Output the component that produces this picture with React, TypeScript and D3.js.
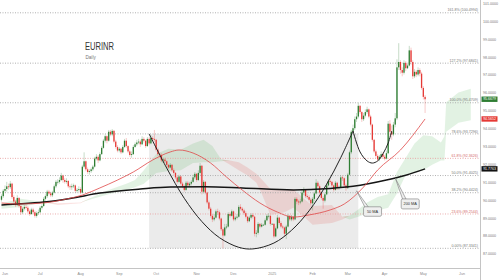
import React from "react";
import * as d3 from "d3";

// ---------- data ----------
const START = "2024-05-30";
const END = "2025-05-02";
const ORIGIN = "2024-06-03";

const opens = [
  90.05, 90.25,
  90.55, 90.65, 90.8, 90.75, 90.95,
  90.2, 89.95, 89.75, 90.15, 89.7,
  89.35, 89.55, 89.65, 89.6, 89.4,
  89.25, 89.5, 89.35, 89.15, 89.3,
  89.35, 89.6, 89.7, 90.1, 90.25,
  90.5, 90.4, 90.3, 90.45, 90.8,
  91.05, 91.05, 91.15, 91.4, 91.15,
  91.05, 91.1, 90.8, 90.75, 90.8,
  90.85, 90.55, 90.6, 90.65, 90.45,
  91.9, 92.2, 91.75, 91.6, 91.65,
  91.75, 91.9, 92.35, 92.45, 92.25,
  92.6, 92.95, 93.35, 93.6, 93.35,
  93.85, 93.7, 93.9, 93.3, 93.0,
  92.8, 92.9, 92.7, 93.0, 93.35,
  93.05, 92.75, 92.55, 92.6, 93.0,
  93.15, 93.25, 93.3, 93.15, 93.45,
  93.35, 93.05, 93.45, 93.2, 93.5,
  93.45, 93.4, 92.85, 92.6, 92.55,
  92.25, 92.3, 92.2, 92.0, 91.85,
  92.0, 91.7, 91.55, 91.3, 91.05,
  91.35, 90.95, 90.8, 90.6, 91.0,
  90.85, 90.95, 91.05, 91.3, 91.5,
  91.15, 91.55, 91.95, 90.5, 91.05,
  90.45, 89.9, 89.55, 89.15, 88.95,
  89.05, 89.4, 89.35, 89.0, 88.4,
  88.05, 88.5, 88.55, 89.25, 89.15,
  89.4, 88.95, 89.05, 89.1, 89.65,
  89.55, 89.45, 89.3, 89.1, 88.85,
  89.05, 89.2, 89.1, 88.15, 88.2,
  88.7, 88.55, 88.65, 88.65, 88.9,
  89.15, 89.15, 88.7, 88.7, 88.0,
  88.45, 89.05, 88.75, 88.55, 88.5,
  88.15, 88.55, 89.15, 88.95, 89.1,
  88.95, 90.1, 89.95, 89.9, 89.95,
  90.45, 90.6, 90.25, 90.2, 90.05,
  89.85, 90.1, 90.4, 91.0, 90.8,
  90.45, 90.15, 90.0, 90.35, 90.85,
  91.1, 91.05, 90.85, 90.6, 91.0,
  90.7, 90.75, 91.3, 91.25, 90.85,
  90.7, 91.45, 92.7, 93.85, 94.05,
  94.55, 94.7, 95.3, 94.95, 94.55,
  94.75, 94.95, 95.1, 94.7, 94.25,
  93.4, 92.75, 92.5, 92.3, 92.45,
  92.6, 92.45, 92.35, 92.65, 94.3,
  93.85, 93.7, 94.25, 94.6, 97.45,
  97.75, 97.3, 97.15, 97.7, 97.4,
  97.55, 98.4, 97.75, 96.95, 97.2,
  97.05, 97.3, 97.1, 96.3, 95.8,
];

const closes = [
  90.25, 90.55,
  90.65, 90.8, 90.75, 90.95, 90.2,
  89.95, 89.75, 90.15, 89.7, 89.35,
  89.55, 89.65, 89.6, 89.4, 89.25,
  89.5, 89.35, 89.15, 89.3, 89.35,
  89.6, 89.7, 90.1, 90.25, 90.5,
  90.4, 90.3, 90.45, 90.8, 91.05,
  91.05, 91.15, 91.4, 91.15, 91.05,
  91.1, 90.8, 90.75, 90.8, 90.85,
  90.55, 90.6, 90.65, 90.45, 91.9,
  92.2, 91.75, 91.6, 91.65, 91.75,
  91.9, 92.35, 92.45, 92.25, 92.6,
  92.95, 93.35, 93.6, 93.35, 93.85,
  93.7, 93.9, 93.3, 93.0, 92.8,
  92.9, 92.7, 93.0, 93.35, 93.05,
  92.75, 92.55, 92.6, 93.0, 93.15,
  93.25, 93.3, 93.15, 93.45, 93.35,
  93.05, 93.45, 93.2, 93.5, 93.45,
  93.4, 92.85, 92.6, 92.55, 92.25,
  92.3, 92.2, 92.0, 91.85, 92.0,
  91.7, 91.55, 91.3, 91.05, 91.35,
  90.95, 90.8, 90.6, 91.0, 90.85,
  90.95, 91.05, 91.3, 91.5, 91.15,
  91.55, 91.95, 90.5, 91.05, 90.45,
  89.9, 89.55, 89.15, 88.95, 89.05,
  89.4, 89.35, 89.0, 88.4, 88.05,
  88.5, 88.55, 89.25, 89.15, 89.4,
  88.95, 89.05, 89.1, 89.65, 89.55,
  89.45, 89.3, 89.1, 88.85, 89.05,
  89.2, 89.1, 88.15, 88.2, 88.7,
  88.55, 88.65, 88.65, 88.9, 89.15,
  89.15, 88.7, 88.7, 88.0, 88.45,
  89.05, 88.75, 88.55, 88.5, 88.15,
  88.55, 89.15, 88.95, 89.1, 88.95,
  90.1, 89.95, 89.9, 89.95, 90.45,
  90.6, 90.25, 90.2, 90.05, 89.85,
  90.1, 90.4, 91.0, 90.8, 90.45,
  90.15, 90.0, 90.35, 90.85, 91.1,
  91.05, 90.85, 90.6, 91.0, 90.7,
  90.75, 91.3, 91.25, 90.85, 90.7,
  91.45, 92.7, 93.85, 94.05, 94.55,
  94.7, 95.3, 94.95, 94.55, 94.75,
  94.95, 95.1, 94.7, 94.25, 93.4,
  92.75, 92.5, 92.3, 92.45, 92.6,
  92.45, 92.35, 92.65, 94.3, 93.85,
  93.7, 94.25, 94.6, 97.45, 97.75,
  97.3, 97.15, 97.7, 97.4, 97.55,
  98.4, 97.75, 96.95, 97.2, 97.05,
  97.3, 97.1, 96.3, 95.8, 95.6679,
];

const highs = [
  90.35, 90.65,
  90.85, 91.05, 90.95, 91.1, 91.0,
  90.3, 90.05, 90.3, 90.2, 89.8,
  89.65, 89.75, 89.75, 89.7, 89.5,
  89.6, 89.6, 89.45, 89.4, 89.5,
  89.7, 89.8, 90.2, 90.35, 90.6,
  90.6, 90.5, 90.55, 90.9, 91.15,
  91.2, 91.3, 91.55, 91.45, 91.25,
  91.25, 91.15, 90.9, 90.95, 90.95,
  90.9, 90.7, 90.8, 90.75, 92.0,
  92.7, 92.25, 91.85, 91.75, 91.85,
  92.0, 92.45, 92.6, 92.55, 92.7,
  93.05, 93.45, 93.7, 93.65, 93.95,
  93.95, 94.0, 93.95, 93.4, 93.1,
  93.0, 92.95, 93.1, 93.45, 93.5,
  93.1, 92.85, 92.75, 93.1, 93.25,
  93.4, 93.45, 93.4, 93.6, 93.55,
  93.4, 93.55, 93.55, 93.65, 93.6,
  93.95, 93.45, 92.95, 92.7, 92.65,
  92.4, 92.4, 92.25, 92.05, 92.1,
  92.05, 91.8, 91.6, 91.4, 91.45,
  91.4, 91.05, 90.9, 91.1, 91.1,
  91.05, 91.15, 91.45, 91.6, 91.55,
  91.7, 92.1, 92.0, 91.15, 91.1,
  90.5, 90.0, 89.65, 89.25, 89.25,
  89.5, 89.55, 89.45, 89.05, 88.5,
  88.7, 88.7, 89.35, 89.35, 89.5,
  89.45, 89.15, 89.25, 89.75, 89.8,
  89.65, 89.55, 89.4, 89.15, 89.15,
  89.3, 89.3, 89.15, 88.35, 88.8,
  88.75, 88.75, 88.7, 89.0, 89.25,
  89.3, 89.2, 88.75, 88.75, 88.55,
  89.2, 89.1, 88.85, 88.65, 88.55,
  88.65, 89.25, 89.2, 89.2, 89.15,
  90.2, 90.2, 90.05, 90.1, 90.6,
  90.75, 90.65, 90.35, 90.3, 90.15,
  90.2, 90.5, 91.2, 91.1, 90.9,
  90.5, 90.25, 90.45, 90.95, 91.2,
  91.2, 91.1, 90.9, 91.1, 91.05,
  90.85, 91.4, 91.4, 91.3, 90.95,
  91.55, 92.8, 93.95, 94.25, 94.7,
  94.9, 95.47, 95.35, 95.0, 94.9,
  95.1, 95.25, 95.15, 94.8, 94.3,
  93.45, 92.85, 92.6, 92.55, 92.75,
  92.7, 92.55, 92.8, 94.45, 94.5,
  94.2, 94.4, 94.9, 97.9, 98.8,
  97.85, 97.45, 97.85, 97.8, 97.65,
  98.65, 98.55, 97.85, 97.35, 97.3,
  97.45, 97.4, 97.2, 96.4, 95.9,
];

const lows = [
  89.95, 90.15,
  90.45, 90.5, 90.6, 90.65, 90.1,
  89.85, 89.65, 89.7, 89.6, 89.2,
  89.25, 89.45, 89.5, 89.3, 89.15,
  89.2, 89.25, 89.05, 89.05, 89.2,
  89.3, 89.5, 89.65, 90.0, 90.15,
  90.3, 90.2, 90.2, 90.4, 90.7,
  90.9, 90.95, 91.1, 91.0, 90.95,
  90.95, 90.7, 90.6, 90.6, 90.7,
  90.45, 90.45, 90.5, 90.35, 90.4,
  91.8, 91.65, 91.5, 91.45, 91.55,
  91.65, 91.85, 92.25, 92.1, 92.2,
  92.55, 92.9, 93.25, 93.2, 93.3,
  93.6, 93.6, 93.2, 92.9, 92.7,
  92.7, 92.6, 92.65, 92.95, 92.95,
  92.65, 92.45, 92.4, 92.55, 92.95,
  93.05, 93.15, 93.0, 93.1, 93.25,
  92.95, 93.0, 93.1, 93.15, 93.35,
  93.3, 92.75, 92.5, 92.4, 92.15,
  92.1, 92.1, 91.9, 91.75, 91.8,
  91.6, 91.45, 91.2, 90.95, 91.0,
  90.85, 90.7, 90.5, 90.55, 90.75,
  90.75, 90.85, 91.0, 91.2, 91.05,
  91.1, 91.45, 90.35, 90.4, 90.35,
  89.8, 89.45, 89.05, 88.8, 88.85,
  89.0, 89.2, 88.9, 88.3, 87.33,
  88.0, 88.4, 88.5, 89.05, 89.1,
  88.85, 88.85, 88.95, 89.05, 89.45,
  89.35, 89.2, 89.0, 88.75, 88.8,
  88.95, 89.0, 88.0, 87.95, 88.1,
  88.45, 88.5, 88.6, 88.6, 88.85,
  89.0, 88.6, 88.65, 87.9, 87.95,
  88.4, 88.65, 88.45, 88.4, 88.0,
  87.85, 88.5, 88.85, 88.85, 88.85,
  88.9, 89.8, 89.75, 89.8, 89.9,
  90.3, 90.15, 90.1, 89.95, 89.75,
  89.45, 90.0, 90.35, 90.7, 90.35,
  90.05, 89.55, 89.9, 90.3, 90.8,
  90.95, 90.75, 90.5, 90.55, 90.6,
  90.6, 90.7, 91.1, 90.75, 90.55,
  90.65, 91.4, 92.6, 93.7, 93.95,
  94.4, 94.6, 94.85, 94.4, 94.45,
  94.65, 94.85, 94.6, 94.15, 93.3,
  92.65, 92.4, 92.2, 92.2, 92.35,
  92.35, 92.25, 92.3, 92.6, 93.6,
  93.4, 93.6, 94.1, 94.5, 97.3,
  97.1, 96.95, 97.05, 97.25, 97.35,
  97.5, 97.6, 96.8, 96.85, 96.9,
  96.95, 96.95, 96.2, 95.65, 94.9,
];

const ma50Dates = [
  "2024-05-30", "2024-06-13", "2024-07-03", "2024-07-22", "2024-08-02", "2024-08-16",
  "2024-08-30", "2024-09-12", "2024-09-27", "2024-10-11", "2024-10-18", "2024-10-30",
  "2024-11-13", "2024-11-26", "2024-12-09", "2024-12-23", "2025-01-06", "2025-01-17",
  "2025-01-30", "2025-02-17", "2025-02-27", "2025-03-14", "2025-03-26", "2025-04-14",
  "2025-05-02",
];
const ma50Values = [
  89.87, 89.81, 89.87, 90.09, 90.31, 90.71,
  91.15, 91.6, 92.27, 92.72, 92.83, 92.66,
  92.1, 91.32, 90.59, 89.87, 89.36, 89.08,
  89.2, 89.48, 89.81, 90.76, 91.71, 92.83,
  94.5652,
];

const ma200Dates = [
  "2024-05-30", "2024-06-14", "2024-07-03", "2024-07-24", "2024-08-16", "2024-09-18",
  "2024-10-11", "2024-11-08", "2024-12-09", "2025-01-17", "2025-02-17", "2025-03-06",
  "2025-04-02", "2025-04-17", "2025-05-02",
];
const ma200Values = [
  89.76, 89.82, 89.92, 90.12, 90.42, 90.65,
  90.76, 90.77, 90.71, 90.6, 90.68, 90.8,
  91.15, 91.42, 91.7763,
];

const cloudDates = [
  "2024-05-30", "2024-06-14", "2024-07-01", "2024-07-15", "2024-08-01", "2024-08-12",
  "2024-08-23", "2024-09-06", "2024-09-13", "2024-09-20", "2024-10-01", "2024-10-10",
  "2024-10-21", "2024-10-30", "2024-11-07", "2024-11-14", "2024-11-21", "2024-11-28",
  "2024-12-05", "2024-12-12", "2024-12-19", "2024-12-24", "2024-12-31", "2025-01-10",
  "2025-01-17", "2025-01-24", "2025-02-03", "2025-02-18", "2025-02-26", "2025-03-04",
  "2025-03-11", "2025-03-18", "2025-03-26", "2025-04-03", "2025-04-10", "2025-04-17",
  "2025-04-24", "2025-05-01", "2025-05-08", "2025-05-15", "2025-05-19", "2025-05-20",
  "2025-05-29", "2025-06-09",
];
const spanA = [
  89.85, 90.1, 89.95, 89.75, 89.85, 90.2, 90.6, 90.95, 91.15, 91.7, 92.6, 92.9,
  92.85, 93.2, 93.4, 93.05, 92.3, 92.0, 91.7, 91.4, 91.0, 90.4, 89.2, 89.35,
  89.6, 89.2, 88.65, 88.75, 88.95, 89.15, 89.5, 89.9, 90.2, 90.35, 91.6, 92.4,
  93.2, 93.65, 93.6, 93.25, 93.6, 95.5, 96.05, 96.25,
];
const spanB = [
  89.55, 89.65, 89.85, 89.85, 89.9, 90.1, 90.35, 90.6, 90.75, 90.95, 91.55, 91.65,
  91.7, 92.1, 92.15, 92.15, 92.2, 92.25, 92.15, 91.85, 91.5, 91.2, 90.65, 90.65,
  90.65, 90.2, 89.7, 89.75, 89.1, 88.95, 89.1, 89.3, 89.45, 89.6, 90.4, 91.45,
  91.55, 91.7, 92.0, 92.25, 92.25, 93.85, 94.35, 94.5,
];

const fibLow = 87.3341;
const fibHigh = 95.4709;
const fibRatios = [0, 0.236, 0.382, 0.5, 0.618, 0.786, 1, 1.272, 1.618];
const fibNames = ["0.00%", "23.6%", "38.2%", "50.0%", "61.8%", "78.6%", "100.0%", "127.2%", "161.8%"];
const fibRed = [false, true, false, false, true, false, false, false, false];

const priceTicks = [87, 88, 89, 90, 91, 92, 93, 94, 95, 96, 97, 98, 99, 100, 101];

const monthStarts = [
  "2024-06-01", "2024-07-01", "2024-08-01", "2024-09-01", "2024-10-01", "2024-11-01",
  "2024-12-01", "2025-01-01", "2025-02-01", "2025-03-01", "2025-04-01", "2025-05-01",
  "2025-06-01",
];
const monthLabels = ["Jun", "Jul", "Aug", "Sep", "Oct", "Nov", "Dec", "2025", "Feb", "Mar", "Apr", "May", "Jun"];

const cupDates = [
  "2024-09-25", "2024-10-09", "2024-10-23", "2024-11-06", "2024-11-20", "2024-12-05",
  "2024-12-17", "2025-01-02", "2025-01-16", "2025-01-30", "2025-02-13", "2025-02-25",
  "2025-03-06",
];
const cupValues = [93.73, 91.82, 90.13, 88.83, 87.93, 87.39, 87.3, 87.63, 88.34, 89.43, 90.92, 92.4, 93.89];

const handleDates = ["2025-03-06", "2025-03-12", "2025-03-18", "2025-03-21", "2025-03-26", "2025-03-31", "2025-04-03", "2025-04-07"];
const handleValues = [93.89, 92.72, 92.22, 92.1, 92.22, 92.61, 93.22, 93.89];

const cupZoneDates = ["2024-09-25", "2025-03-11"];

const callouts = [
  { label: "50 MA", date: "2025-03-10", value: 90.55, dx: 7, dy: 16, w: 18, h: 9.5 },
  { label: "200 MA", date: "2025-04-09", value: 91.27, dx: 6, dy: 21, w: 18, h: 10 },
];

// ---------- helpers ----------
const parse = d3.utcParse("%Y-%m-%d");
const isWeekday = (d: Date) => d.getUTCDay() !== 0 && d.getUTCDay() !== 6;
const originDate = parse(ORIGIN) as Date;
function tIndex(d: Date): number {
  if (d >= originDate) return d3.utcDay.range(originDate, d).filter(isWeekday).length;
  return -d3.utcDay.range(d, originDate).filter(isWeekday).length;
}
const ti = (s: string) => tIndex(parse(s) as Date);

const GREEN = "#2e7d32";
const RED = "#e53935";
const FONT = "'Liberation Sans', Arial, sans-serif";

export default function App() {
  const W = 500;
  const H = 280;
  const x = d3.scaleLinear().domain([0, 260]).range([5, 462]);
  const y = d3.scaleLinear().domain([87, 101]).range([254.3, 3.84]);
  const axisX = 480.5;
  const axisY = 268.5;

  const candleDates = d3.utcDay
    .range(parse(START) as Date, d3.utcDay.offset(parse(END) as Date, 1))
    .filter(isWeekday);
  const n = Math.min(candleDates.length, opens.length, closes.length, highs.length, lows.length);

  const ma = (dates: string[], vals: number[]) =>
    d3.line<number>()
      .x((i) => x(ti(dates[i])))
      .y((i) => y(vals[i]))
      .curve(d3.curveMonotoneX)(d3.range(Math.min(dates.length, vals.length))) || "";

  const cN = Math.min(cloudDates.length, spanA.length, spanB.length);
  const cIdx = d3.range(cN);
  const greenArea = d3.area<number>()
    .x((i) => x(ti(cloudDates[i])))
    .y0((i) => y(spanB[i]))
    .y1((i) => y(Math.max(spanA[i], spanB[i])))(cIdx) || "";
  const redArea = d3.area<number>()
    .x((i) => x(ti(cloudDates[i])))
    .y0((i) => y(spanA[i]))
    .y1((i) => y(Math.max(spanA[i], spanB[i])))(cIdx) || "";

  const cupPath = d3.line<number>()
    .x((i) => x(ti(cupDates[i])))
    .y((i) => y(cupValues[i]))
    .curve(d3.curveCatmullRom)(d3.range(cupDates.length)) || "";
  const handlePath = d3.line<number>()
    .x((i) => x(ti(handleDates[i])))
    .y((i) => y(handleValues[i]))
    .curve(d3.curveCatmullRom)(d3.range(handleDates.length)) || "";

  const zoneX0 = x(ti(cupZoneDates[0]));
  const zoneX1 = x(ti(cupZoneDates[1]));
  const fibVal = (r: number) => fibLow + (fibHigh - fibLow) * r;
  const zoneY0 = y(fibVal(0.786));
  const zoneY1 = y(fibVal(0));

  const boxes = [
    { v: closes[n - 1], fill: GREEN },
    { v: ma50Values[ma50Values.length - 1], fill: RED },
    { v: ma200Values[ma200Values.length - 1], fill: "#111" },
  ];

  return (
    <svg
      width={W}
      height={H}
      style={{ position: "absolute", left: 0, top: 0, background: "#fff" }}
      fontFamily={FONT}
    >
      <rect x={0} y={0} width={W} height={H} fill="#fff" />

      {/* cup zone */}
      <rect x={zoneX0} y={zoneY0} width={zoneX1 - zoneX0} height={zoneY1 - zoneY0} fill="#ebebeb" />

      {/* ichimoku cloud */}
      <path d={greenArea} fill="rgba(76,175,80,0.16)" />
      <path d={redArea} fill="rgba(229,57,53,0.14)" />

      {/* fib levels */}
      {fibRatios.map((r, k) => {
        const yy = y(fibVal(r));
        return (
          <g key={"fib" + k}>
            <line
              x1={0}
              x2={479}
              y1={yy}
              y2={yy}
              stroke={fibRed[k] ? "#e8a4a4" : "#a8a8a8"}
              strokeWidth={0.9}
              strokeDasharray="1 1.5"
            />
            <text
              x={478}
              y={yy - 1.3}
              fontSize={3.6}
              textAnchor="end"
              fill={fibRed[k] ? "#d46a6a" : "#777"}
            >
              {`${fibNames[k]} (${fibVal(r).toFixed(4)})`}
            </text>
          </g>
        );
      })}

      {/* candles */}
      {d3.range(n).map((i) => {
        const cx = x(tIndex(candleDates[i]));
        const o = opens[i];
        const c = closes[i];
        const col = c >= o ? GREEN : RED;
        const yt = y(Math.max(o, c));
        const yb = y(Math.min(o, c));
        return (
          <g key={"c" + i}>
            <line x1={cx} x2={cx} y1={y(highs[i])} y2={y(lows[i])} stroke={col} strokeOpacity={0.45} strokeWidth={0.6} />
            <rect x={cx - 0.65} y={yt} width={1.3} height={Math.max(0.7, yb - yt)} fill={col} />
          </g>
        );
      })}

      {/* moving averages */}
      <path d={ma(ma200Dates, ma200Values)} fill="none" stroke="#151515" strokeWidth={1.5} />
      <path d={ma(ma50Dates, ma50Values)} fill="none" stroke="#e04848" strokeWidth={0.8} />

      {/* cup and handle */}
      <path d={cupPath} fill="none" stroke="#222" strokeWidth={1} />
      <path d={handlePath} fill="none" stroke="#222" strokeWidth={1} />

      {/* callouts */}
      {callouts.map((c, k) => {
        const ax = x(ti(c.date));
        const ay = y(c.value);
        const bx = ax + c.dx;
        const by = ay + c.dy;
        return (
          <g key={"co" + k}>
            <path
              d={`M${ax},${ay} L${bx + 1.5},${by + 0.5} L${bx + 5},${by + 0.5} Z`}
              fill="#efefef"
              stroke="#7a7a7a"
              strokeWidth={0.6}
            />
            <rect x={bx} y={by} width={c.w} height={c.h} rx={1.6} fill="#efefef" stroke="#7a7a7a" strokeWidth={0.6} />
            <text x={bx + c.w / 2} y={by + c.h / 2} fontSize={3.9} textAnchor="middle" dominantBaseline="central" fill="#333">
              {c.label}
            </text>
          </g>
        );
      })}

      {/* axes */}
      <line x1={0} x2={axisX} y1={axisY} y2={axisY} stroke="#c4c4c4" strokeWidth={1} />
      <line x1={axisX} x2={axisX} y1={0} y2={H} stroke="#c4c4c4" strokeWidth={1} />

      {priceTicks.map((v) => (
        <text key={"pt" + v} x={483} y={y(v)} fontSize={3.6} dominantBaseline="central" fill="#777">
          {v.toFixed(4)}
        </text>
      ))}

      {monthStarts.map((m, k) => (
        <text key={"m" + k} x={x(ti(m))} y={273.5} fontSize={3.6} textAnchor="middle" dominantBaseline="central" fill="#888">
          {monthLabels[k]}
        </text>
      ))}

      {/* last value boxes */}
      {boxes.map((b, k) => (
        <g key={"b" + k}>
          <rect x={481.5} y={y(b.v) - 2.7} width={16} height={5.4} fill={b.fill} />
          <text x={489.5} y={y(b.v)} fontSize={3.5} textAnchor="middle" dominantBaseline="central" fill="#fff">
            {b.v.toFixed(4)}
          </text>
        </g>
      ))}

      {/* title */}
      <text x={85} y={50} fontSize={11} fill="#333" textLength={29} lengthAdjust="spacingAndGlyphs">
        EURINR
      </text>
      <text x={85.5} y={58.5} fontSize={4.6} fill="#777">
        Daily
      </text>
    </svg>
  );
}
